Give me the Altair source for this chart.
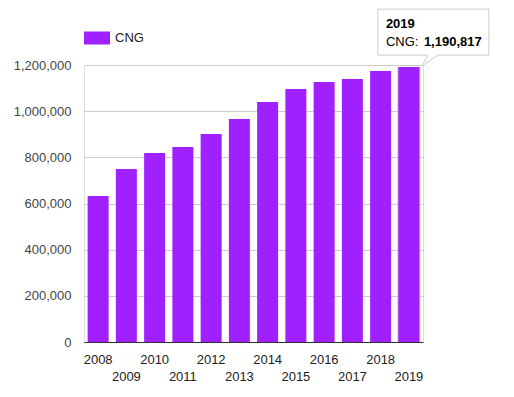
import altair as alt
import pandas as pd

years = ["2008", "2009", "2010", "2011", "2012", "2013", "2014", "2015", "2016", "2017", "2018", "2019"]
cng = [633000, 749500, 818800, 844800, 901000, 966000, 1039700, 1096000, 1126000, 1139000, 1174000, 1190817]
series = "CNG"
y_ticks = [0, 100000, 200000, 300000, 400000, 500000, 600000, 700000, 800000, 900000, 1000000, 1100000, 1200000]

FONT = "Liberation Sans"
PURPLE = "#A020FF"

df = pd.DataFrame({"year": years, "value": cng, "series": [series] * len(years)})
last = df.iloc[[-1]].copy()
last["label_year"] = last["year"]
last["label_series"] = series + ": "
last["label_value"] = last["value"].map(lambda v: f"{v:,}")

x_enc = alt.X(
    "year:N",
    sort=years,
    scale=alt.Scale(paddingInner=0.26, paddingOuter=0.13),
    axis=alt.Axis(
        title=None,
        ticks=False,
        grid=False,
        domainColor="#333333",
        labelAngle=0,
        labelFont=FONT,
        labelFontSize=13,
        labelColor="#222222",
        labelPadding=11,
        labelLineHeight=17,
        labelOverlap=False,
        labelExpr="toNumber(datum.value) % 2 == 0 ? datum.value : ['', datum.value]",
    ),
)
y_enc = alt.Y(
    "value:Q",
    scale=alt.Scale(domain=[0, 1200000], nice=False),
    axis=alt.Axis(
        title=None,
        values=y_ticks,
        domain=False,
        ticks=False,
        labelFont=FONT,
        labelFontSize=13,
        labelColor="#444444",
        labelPadding=13,
        labelExpr="datum.value % 200000 == 0 ? format(datum.value, ',') : ''",
        gridColor=alt.condition("datum.value % 200000 == 0", alt.value("#cccccc"), alt.value("#ebebeb")),
    ),
)

bars = alt.Chart(df).mark_bar(size=21).encode(
    x=x_enc,
    y=y_enc,
    color=alt.Color(
        "series:N",
        scale=alt.Scale(domain=[series], range=[PURPLE]),
        legend=alt.Legend(
            title=None,
            orient="none",
            legendX=0,
            legendY=-40,
            symbolType="M-1,-0.5H1V0.5H-1Z",
            symbolSize=676,
            symbolStrokeWidth=0,
            symbolOpacity=1,
            labelFont=FONT,
            labelFontSize=13,
            labelColor="#222222",
            labelOffset=5,
        ),
    ),
)

highlight = alt.Chart(last).mark_bar(
    size=23, fill="#bbbbbb", opacity=0.8
).encode(x=alt.X("year:N", sort=years), y="value:Q")

top_bar = alt.Chart(last).mark_bar(size=21, fill=PURPLE).encode(
    x=alt.X("year:N", sort=years), y="value:Q"
)

tip_box = alt.Chart(last).mark_point(
    shape="M-31,-58H80V-12H29L13,-1L19,-12H-31Z",
    size=4,
    filled=True,
    fill="white",
    stroke="#cccccc",
    strokeWidth=1,
    opacity=1,
).encode(x=alt.X("year:N", sort=years), y="value:Q")

tip_year = alt.Chart(last).mark_text(
    align="left", baseline="middle", dx=-23, dy=-43, font=FONT, fontSize=13, fontWeight="bold", color="#000000"
).encode(x=alt.X("year:N", sort=years), y="value:Q", text="label_year:N")

tip_series = alt.Chart(last).mark_text(
    align="left", baseline="middle", dx=-23, dy=-25, font=FONT, fontSize=13, color="#000000"
).encode(x=alt.X("year:N", sort=years), y="value:Q", text="label_series:N")

tip_value = alt.Chart(last).mark_text(
    align="left", baseline="middle", dx=15, dy=-25, font=FONT, fontSize=13, fontWeight="bold", color="#000000"
).encode(x=alt.X("year:N", sort=years), y="value:Q", text="label_value:N")

chart = alt.layer(bars, highlight, top_bar, tip_box, tip_year, tip_series, tip_value).properties(
    width=339,
    height=277,
    autosize=alt.AutoSizeParams(type="none"),
    padding={"left": 76, "top": 57, "right": 83, "bottom": 47},
).configure_view(stroke=None).configure(background="white")

chart.save("out.html", embed_options={"renderer": "svg", "actions": False})
